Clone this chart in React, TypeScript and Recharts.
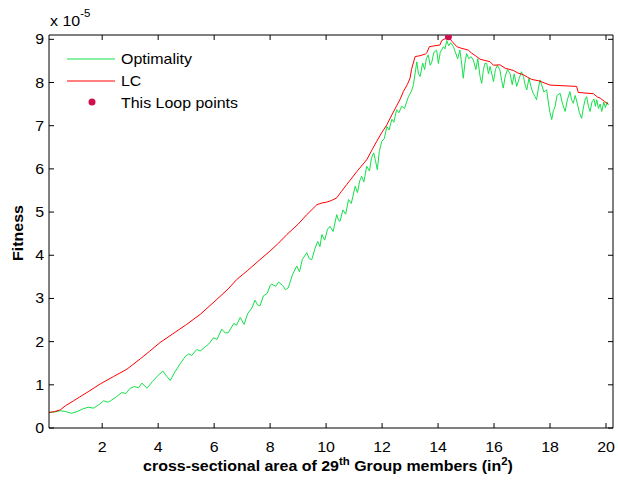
import { ComposedChart, Line, Scatter, XAxis, YAxis } from "recharts";

// Optimality curve (green)
const optX = [
  0.1, 0.3, 0.5, 0.7, 0.9, 1.1, 1.3, 1.5, 1.7, 1.9, 2.05, 2.2, 2.3, 2.5, 2.7, 2.85, 3.0, 3.15, 3.3, 3.42,
  3.6, 3.8, 4.0, 4.17, 4.3, 4.43, 4.6, 4.8, 4.96, 5.1, 5.2, 5.38, 5.5, 5.68, 5.8, 5.98, 6.1, 6.27, 6.4, 6.51,
  6.7, 6.8, 6.93, 7.07, 7.2, 7.35, 7.46, 7.55, 7.64, 7.76, 7.9, 8.0, 8.06, 8.2, 8.3, 8.45, 8.55, 8.65, 8.8, 8.95,
  9.05, 9.15, 9.31, 9.4, 9.49, 9.6, 9.7, 9.78, 9.85, 9.95, 10.05, 10.14, 10.25, 10.38, 10.45, 10.5, 10.6, 10.7, 10.8, 10.9,
  11.04, 11.12, 11.2, 11.27, 11.35, 11.45, 11.55, 11.62, 11.7, 11.76, 11.83, 11.9, 11.99, 12.08, 12.17, 12.25, 12.35, 12.42, 12.52, 12.6,
  12.7, 12.8, 12.94, 13.05, 13.12, 13.2, 13.24, 13.3, 13.36, 13.45, 13.52, 13.58, 13.65, 13.72, 13.78, 13.85, 13.95, 14.01, 14.08, 14.19,
  14.25, 14.31, 14.38, 14.45, 14.55, 14.62, 14.7, 14.78, 14.85, 14.9, 14.96, 15.02, 15.1, 15.18, 15.26, 15.35, 15.42, 15.5, 15.56, 15.62,
  15.68, 15.74, 15.8, 15.86, 15.92, 15.98, 16.05, 16.12, 16.21, 16.27, 16.33, 16.4, 16.48, 16.57, 16.65, 16.72, 16.81, 16.9, 16.98, 17.05,
  17.11, 17.17, 17.25, 17.32, 17.4, 17.46, 17.52, 17.58, 17.64, 17.7, 17.78, 17.88, 17.95, 18.0, 18.06, 18.12, 18.18, 18.25, 18.36, 18.45,
  18.54, 18.62, 18.71, 18.77, 18.83, 18.9, 18.98, 19.05, 19.13, 19.2, 19.26, 19.31, 19.37, 19.43, 19.5, 19.57, 19.62, 19.67, 19.73, 19.79,
  19.85, 19.92, 19.98, 20.04, 20.08,
];
const optY = [
  0.36, 0.37, 0.4, 0.38, 0.34, 0.38, 0.44, 0.48, 0.46, 0.55, 0.63, 0.6, 0.63, 0.72, 0.82, 0.8, 0.92, 0.96, 0.93, 1.04,
  0.92, 1.08, 1.22, 1.32, 1.2, 1.1, 1.3, 1.5, 1.65, 1.72, 1.68, 1.82, 1.78, 1.88, 1.94, 2.09, 2.05, 2.29, 2.2, 2.21,
  2.42, 2.38, 2.56, 2.4, 2.65, 2.78, 2.96, 2.85, 2.83, 3.06, 3.12, 3.3, 3.33, 3.28, 3.38, 3.3, 3.2, 3.25, 3.55, 3.75,
  3.62, 3.9, 4.06, 3.92, 3.9, 4.15, 4.32, 4.2, 4.48, 4.35, 4.6, 4.67, 4.55, 4.94, 4.8, 4.79, 5.05, 4.95, 5.29, 5.2,
  5.6, 5.45, 5.72, 5.83, 5.7, 6.06, 5.95, 6.25, 6.37, 6.2, 5.98, 6.4, 6.64, 6.7, 6.98, 6.9, 7.15, 7.08, 7.37, 7.3,
  7.45, 7.4, 7.67, 7.8, 7.95, 8.3, 8.48, 8.2, 8.14, 8.45, 8.3, 8.55, 8.64, 8.4, 8.48, 8.7, 8.75, 8.44, 8.7, 8.83,
  8.78, 8.97, 8.85, 8.92, 8.83, 8.7, 8.55, 8.75, 8.4, 8.1, 8.45, 8.67, 8.55, 8.6, 8.52, 8.3, 8.55, 8.14, 7.98, 8.3,
  8.45, 8.44, 8.2, 8.37, 8.2, 8.02, 8.3, 8.4, 8.29, 8.05, 7.87, 8.15, 8.3, 8.21, 7.95, 8.2, 7.91, 8.1, 8.25, 8.14,
  7.95, 7.83, 8.1, 7.9, 7.75, 7.68, 7.6, 7.85, 8.06, 7.95, 7.78, 7.83, 7.5, 7.3, 7.14, 7.35, 7.44, 7.7, 7.75, 7.5,
  7.33, 7.6, 7.79, 7.6, 7.52, 7.7, 7.5, 7.3, 7.17, 7.45, 7.62, 7.67, 7.45, 7.33, 7.55, 7.62, 7.45, 7.6, 7.4, 7.5,
  7.33, 7.55, 7.42, 7.55, 7.48,
];

// LC curve (red)
const lcX = [
  0.1, 0.3, 0.5, 0.7, 0.98, 1.2, 1.5, 1.93, 2.4, 2.88, 3.36, 3.7, 4.07, 4.5, 5.02, 5.5, 6.1, 6.5, 6.81, 7.2,
  7.57, 8.0, 8.3, 8.6, 9.0, 9.31, 9.5, 9.67, 9.85, 10.02, 10.2, 10.38, 10.55, 10.74, 11.1, 11.45, 11.65, 11.81, 12.0, 12.17,
  12.35, 12.52, 12.65, 12.76, 12.9, 13.0, 13.05, 13.18, 13.35, 13.55, 13.6, 13.69, 14.07, 14.13, 14.37, 14.5, 14.67, 14.8, 15.08, 15.2,
  15.38, 15.5, 15.86, 15.98, 16.21, 16.4, 16.69, 16.85, 17.05, 17.2, 17.35, 17.6, 18.0, 18.95, 19.01, 19.55, 19.7, 19.79, 19.95, 20.08,
];
const lcY = [
  0.36, 0.38, 0.42, 0.52, 0.63, 0.72, 0.84, 1.02, 1.19, 1.36, 1.6, 1.78, 1.98, 2.17, 2.4, 2.63, 2.98, 3.22, 3.44, 3.65,
  3.86, 4.1, 4.28, 4.48, 4.72, 4.94, 5.06, 5.17, 5.21, 5.23, 5.27, 5.33, 5.48, 5.64, 5.94, 6.21, 6.45, 6.64, 6.85, 7.02,
  7.25, 7.46, 7.62, 7.79, 7.95, 8.1, 8.3, 8.6, 8.62, 8.66, 8.69, 8.83, 8.87, 8.97, 9.06, 8.95, 8.83, 8.8, 8.75, 8.68,
  8.6, 8.54, 8.48, 8.4, 8.41, 8.33, 8.28, 8.22, 8.18, 8.12, 8.07, 8.04, 7.94, 7.91, 7.77, 7.74, 7.66, 7.64, 7.56, 7.5,
];

// This Loop points
const loopX = [14.37];
const loopY = [9.06];

const xTicks = [2, 4, 6, 8, 10, 12, 14, 16, 18, 20];
const yTicks = [0, 1, 2, 3, 4, 5, 6, 7, 8, 9];

const optData = optX.map((x, i) => ({ x, y: optY[i] }));
const lcData = lcX.map((x, i) => ({ x, y: lcY[i] }));
const loopData = loopX.map((x, i) => ({ x, y: loopY[i] }));

const FONT = "'Liberation Sans', Arial, sans-serif";
const GREEN = "#14e04a";
const RED = "#ff0000";
const DOT = "#d0104c";
// the original text renders noticeably wider than Arial at the same height
const STRETCH = 1.14;

function T(props: any) {
  const { x, y, rotate = 0, children, ...rest } = props;
  return (
    <text
      x={0}
      y={0}
      transform={`translate(${x} ${y}) rotate(${rotate}) scale(${STRETCH} 1)`}
      fontSize={14}
      fill="#000"
      fontFamily={FONT}
      {...rest}
    >
      {children}
    </text>
  );
}

function BottomTick(props: any) {
  const { x, y, payload } = props;
  return (
    <g>
      <line x1={x} y1={y} x2={x} y2={y - 5} stroke="#000" />
      <T x={x} y={y + 24} textAnchor="middle">{payload.value}</T>
    </g>
  );
}

function TopTick(props: any) {
  const { x, y } = props;
  return <line x1={x} y1={y} x2={x} y2={y + 5} stroke="#000" />;
}

function LeftTick(props: any) {
  const { x, y, payload } = props;
  return (
    <g>
      <line x1={x} y1={y} x2={x + 5} y2={y} stroke="#000" />
      <T x={x - 5} y={y + 5} textAnchor="end">{payload.value}</T>
    </g>
  );
}

function RightTick(props: any) {
  const { x, y } = props;
  return <line x1={x} y1={y} x2={x - 5} y2={y} stroke="#000" />;
}

function XLabel() {
  return (
    <T x={328} y={471} textAnchor="middle" fontWeight="bold">
      cross-sectional area of 29
      <tspan fontSize={10} dy={-6}>th</tspan>
      <tspan dy={6}> Group members (in</tspan>
      <tspan fontSize={10} dy={-6}>2</tspan>
      <tspan dy={6}>)</tspan>
    </T>
  );
}

function YLabel() {
  return (
    <T x={23} y={233} rotate={-90} textAnchor="middle" fontWeight="bold">
      Fitness
    </T>
  );
}

function Overlay() {
  return (
    <svg width={618} height={481} style={{ position: "absolute", left: 0, top: 0, pointerEvents: "none" }}>
      <T x={50} y={26}>
        x 10<tspan fontSize={10} dy={-9}>-5</tspan>
      </T>
      <line x1={67} y1={59} x2={115} y2={59} stroke={GREEN} />
      <T x={121} y={64}>Optimality</T>
      <line x1={67} y1={81} x2={115} y2={81} stroke={RED} />
      <T x={121} y={86}>LC</T>
      <circle cx={92} cy={102} r={3.5} fill={DOT} />
      <T x={121} y={108}>This Loop points</T>
    </svg>
  );
}

export default function App() {
  return (
    <div style={{ position: "absolute", left: 0, top: 0, width: 618, height: 481, background: "#fff", fontFamily: FONT }}>
      <ComposedChart width={618} height={481} margin={{ top: 30, right: 0, bottom: 0, left: 0 }}>
        <XAxis
          xAxisId="bottom"
          dataKey="x"
          type="number"
          domain={[0.1, 20.25]}
          ticks={xTicks}
          interval={0}
          height={53}
          tickSize={0}
          tickMargin={0}
          tickLine={false}
          tick={BottomTick}
          axisLine={{ stroke: "#000" }}
          allowDataOverflow
          label={{ content: XLabel }}
        />
        <XAxis
          xAxisId="top"
          orientation="top"
          dataKey="x"
          type="number"
          domain={[0.1, 20.25]}
          ticks={xTicks}
          interval={0}
          height={5}
          tickSize={0}
          tickMargin={0}
          tickLine={false}
          tick={TopTick}
          axisLine={{ stroke: "#000" }}
          allowDataOverflow
        />
        <YAxis
          yAxisId="left"
          dataKey="y"
          type="number"
          domain={[0, 9.1]}
          ticks={yTicks}
          interval={0}
          width={49}
          tickSize={0}
          tickMargin={0}
          tickLine={false}
          tick={LeftTick}
          axisLine={{ stroke: "#000" }}
          allowDataOverflow
          label={{ content: YLabel }}
        />
        <YAxis
          yAxisId="right"
          orientation="right"
          dataKey="y"
          type="number"
          domain={[0, 9.1]}
          ticks={yTicks}
          interval={0}
          width={5}
          tickSize={0}
          tickMargin={0}
          tickLine={false}
          tick={RightTick}
          axisLine={{ stroke: "#000" }}
          allowDataOverflow
        />
        <Line
          xAxisId="bottom"
          yAxisId="left"
          data={optData}
          dataKey="y"
          type="linear"
          stroke={GREEN}
          strokeWidth={1}
          dot={false}
          isAnimationActive={false}
        />
        <Line
          xAxisId="bottom"
          yAxisId="left"
          data={lcData}
          dataKey="y"
          type="linear"
          stroke={RED}
          strokeWidth={1}
          dot={false}
          isAnimationActive={false}
        />
        <Scatter
          xAxisId="bottom"
          yAxisId="left"
          data={loopData}
          dataKey="y"
          fill={DOT}
          shape={(p: any) => <circle cx={p.cx} cy={p.cy} r={3.5} fill={DOT} />}
          isAnimationActive={false}
        />
      </ComposedChart>
      <Overlay />
    </div>
  );
}
